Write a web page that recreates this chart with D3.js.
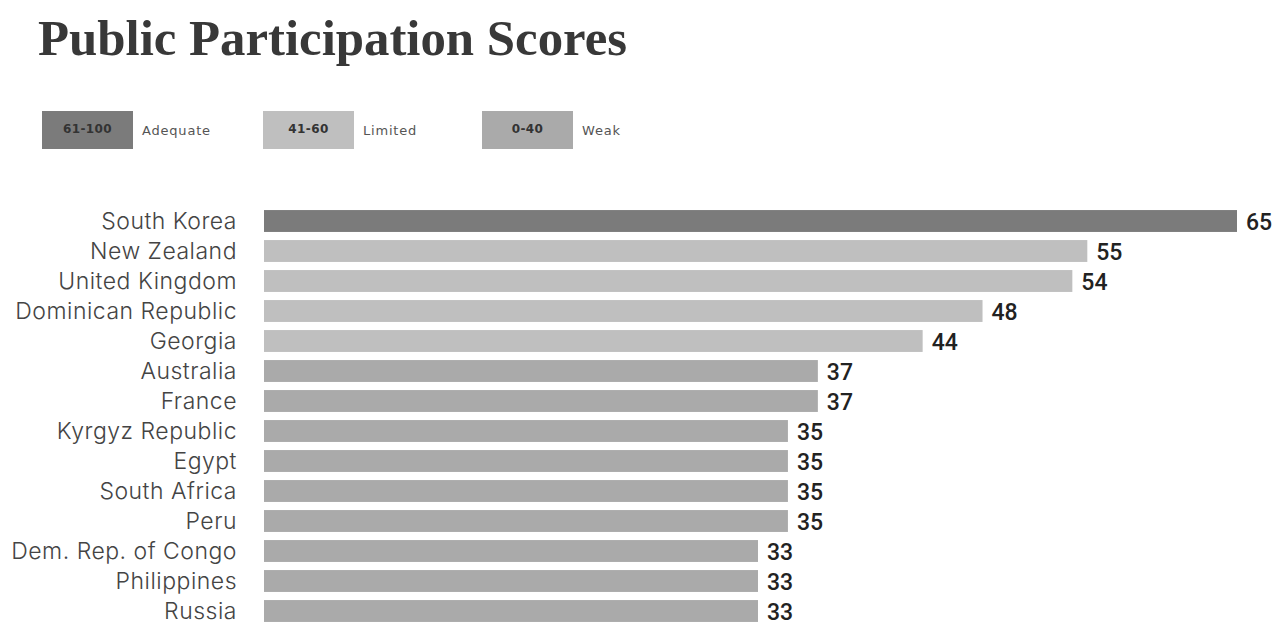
<!DOCTYPE html>
<html lang="en">
<head>
    <meta charset="UTF-8">
    <title>Public Participation Scores</title>
    <style>
        body, html {
            margin: 0;
            overflow: hidden;
            background: #fff;
        }
    </style>
</head>
<body>

<script src="https://d3js.org/d3.v7.min.js"></script>

<script>
    // Chart data
    const countries = ["South Korea", "New Zealand", "United Kingdom", "Dominican Republic", "Georgia",
        "Australia", "France", "Kyrgyz Republic", "Egypt", "South Africa", "Peru",
        "Dem. Rep. of Congo", "Philippines", "Russia"];
    const scores = [65, 55, 54, 48, 44, 37, 37, 35, 35, 35, 35, 33, 33, 33];

    // Legend categories
    const legendRanges = ["61-100", "41-60", "0-40"];
    const legendNames = ["Adequate", "Limited", "Weak"];
    const legendMins = [61, 41, 0];
    const legendColors = ["#7b7b7b", "#bfbfbf", "#aaaaaa"];

    const width = 1275, height = 623;

    const svg = d3.create("svg")
        .attr("width", width)
        .attr("height", height);

    // Title
    svg.append("text")
        .attr("x", 38)
        .attr("y", 55)
        .attr("font-family", "'Liberation Serif', 'DejaVu Serif', serif")
        .attr("font-weight", "bold")
        .attr("font-size", 50)
        .attr("textLength", 589)
        .attr("lengthAdjust", "spacingAndGlyphs")
        .attr("fill", "#383838")
        .text("Public Participation Scores");

    // Legend
    const legendX = [42, 263, 482];
    const legend = svg.append("g");
    legendRanges.forEach((r, i) => {
        const g = legend.append("g").attr("transform", `translate(${legendX[i]},111)`);
        g.append("rect")
            .attr("width", 91)
            .attr("height", 38)
            .attr("fill", legendColors[i]);
        g.append("text")
            .attr("x", 45.5)
            .attr("y", 18)
            .attr("dy", "0.35em")
            .attr("text-anchor", "middle")
            .attr("font-family", "'DejaVu Sans', sans-serif")
            .attr("font-weight", "bold")
            .attr("font-size", 12)
            .attr("letter-spacing", 0.4)
            .attr("fill", "#333")
            .text(r);
        g.append("text")
            .attr("x", 100)
            .attr("y", 19)
            .attr("dy", "0.35em")
            .attr("font-family", "'DejaVu Sans', sans-serif")
            .attr("font-size", 13)
            .attr("letter-spacing", 0.8)
            .attr("fill", "#555")
            .text(legendNames[i]);
    });

    // Scales
    const x = d3.scaleLinear()
        .domain([0, d3.max(scores)])
        .range([264, 1237]);

    const y = d3.scaleBand()
        .domain(countries)
        .range([206, 206 + countries.length * 30])
        .paddingInner(0.27)
        .paddingOuter(0.135);

    const color = v => legendColors[legendMins.findIndex(m => v >= m)];

    const rows = svg.append("g")
        .selectAll("g")
        .data(countries.map((c, i) => ({ country: c, score: scores[i] })))
        .join("g");

    rows.append("rect")
        .attr("x", x(0))
        .attr("y", d => y(d.country))
        .attr("width", d => x(d.score) - x(0))
        .attr("height", y.bandwidth())
        .attr("fill", d => color(d.score));

    // Country labels
    rows.append("text")
        .attr("x", 237)
        .attr("y", d => y(d.country) + y.bandwidth() / 2)
        .attr("dy", "0.35em")
        .attr("text-anchor", "end")
        .attr("font-family", "Inter, 'Noto Sans', sans-serif")
        .attr("font-weight", 300)
        .attr("font-size", 23)
        .attr("letter-spacing", 0.5)
        .attr("fill", "#444")
        .text(d => d.country);

    // Value labels
    rows.append("text")
        .attr("x", d => x(d.score) + 9)
        .attr("y", d => y(d.country) + y.bandwidth() / 2 + 1)
        .attr("dy", "0.35em")
        .attr("font-family", "Roboto, 'Noto Sans', sans-serif")
        .attr("font-weight", 500)
        .attr("font-size", 23)
        .attr("fill", "#222")
        .text(d => d.score);

    document.body.appendChild(svg.node());
</script>

</body>
</html>
